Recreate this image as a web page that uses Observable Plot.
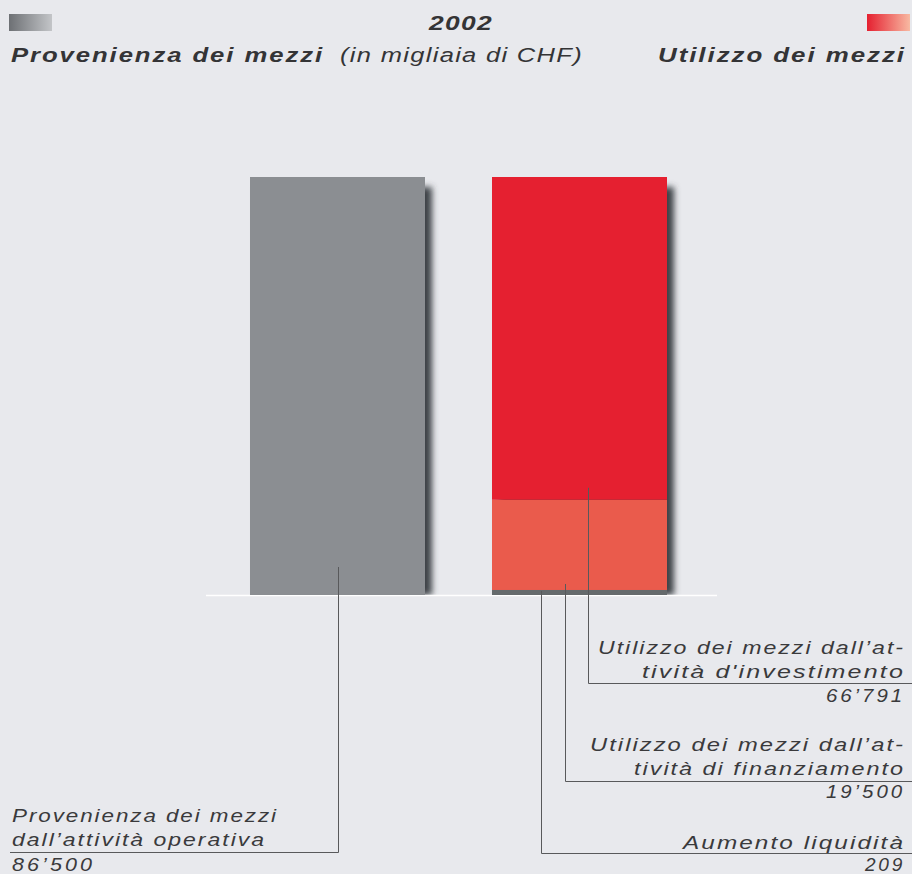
<!DOCTYPE html>
<html><head><meta charset="utf-8">
<script src="https://cdn.jsdelivr.net/npm/d3@7"></script>
<script src="https://cdn.jsdelivr.net/npm/@observablehq/plot@0.6"></script>
<style>
html,body{margin:0;padding:0;background:#e8e9ed;}
#chart svg{display:block;}
</style>
</head><body><div id="chart"></div>
<script>
// ---- data ----
const year = "2002";
const categories = ["Provenienza dei mezzi", "Utilizzo dei mezzi"];
const unitNote = "(in migliaia di CHF)";
const sourceLabels = ["Provenienza dei mezzi dall’attività operativa"];
const sourceValues = [86500];
const useLabels = ["Aumento liquidità", "Utilizzo dei mezzi dall’attività di finanziamento", "Utilizzo dei mezzi dall’attività d'investimento"];
const useValues = [209, 19500, 66791];
// label text as broken in the original
const sourceLabelLines = [["Provenienza dei mezzi", "dall’attività operativa"]];
const useLabelLines = [["Aumento liquidità"], ["Utilizzo dei mezzi dall’at-", "tività di finanziamento"], ["Utilizzo dei mezzi dall’at-", "tività d'investimento"]];

// ---- styles ----
const sourceFill = "#8b8e92";
const useFills = ["#656a6c", "#ea5b4c", "#e52030"];
const textColor = "#3a3a3c";
const fmt = d3.formatLocale({decimal: ".", thousands: "’", grouping: [3]}).format(",");

const src = sourceValues.map((v, i) => ({cat: categories[0], label: sourceLabels[i], value: v, fill: sourceFill}));
const segs = useValues.map((v, i) => ({cat: categories[1], label: useLabels[i], value: v, fill: useFills[i]}));
const all = [...src, ...segs];

const W = 912, H = 874;
const plot = Plot.plot({
  width: W, height: H,
  marginLeft: 206, marginRight: 195, marginTop: 177, marginBottom: 874 - 595,
  style: {background: "#e8e9ed", overflow: "visible", fontFamily: "Liberation Sans, Arial, sans-serif"},
  x: {type: "band", domain: categories, range: [250, 667], paddingInner: 0.277, paddingOuter: 0, axis: null},
  y: {domain: [0, d3.sum(useValues)], range: [595, 177], axis: null},
  marks: [
    Plot.barY(all, Plot.groupX({y: "sum"}, {x: "cat", y: "value", fill: "#3e4246", dx: 7, insetTop: 10, ariaDescription: "shadow"})),
    Plot.ruleY([0], {stroke: "#ffffff", strokeWidth: 1.5}),
    Plot.barY(all, {x: "cat", y: "value", fill: d => d.fill}),
    Plot.barY([segs[0]], {x: "cat", y1: 0, y2: "value", fill: d => d.fill, insetTop: -4})
  ]
});
document.getElementById("chart").appendChild(plot);

const svg = d3.select(plot);
const xs = plot.scale("x"), ys = plot.scale("y");
const defs = svg.insert("defs", ":first-child");
defs.append("filter").attr("id", "shblur").attr("filterUnits", "userSpaceOnUse")
  .attr("x", 0).attr("y", 0).attr("width", W).attr("height", H)
  .append("feGaussianBlur").attr("stdDeviation", 3.4);
defs.append("clipPath").attr("id", "aboveBase").append("rect")
  .attr("x", 0).attr("y", 0).attr("width", W).attr("height", ys.apply(0));
const g1 = defs.append("linearGradient").attr("id", "gGray");
g1.append("stop").attr("offset", "0%").attr("stop-color", "#6d7074");
g1.append("stop").attr("offset", "100%").attr("stop-color", "#c3c5c8");
const g2 = defs.append("linearGradient").attr("id", "gRed");
g2.append("stop").attr("offset", "0%").attr("stop-color", "#e52030");
g2.append("stop").attr("offset", "100%").attr("stop-color", "#f8b9a2");
let shadowG = svg.select('g[aria-description="shadow"]');
if (shadowG.empty()) shadowG = svg.select('g[aria-label="bar"]');
const wrapper = svg.insert("g", () => shadowG.node()).attr("clip-path", "url(#aboveBase)");
wrapper.node().appendChild(shadowG.node());
shadowG.attr("filter", "url(#shblur)");

// ---- header ----
const hdr = svg.append("g").attr("fill", "#343436");
hdr.append("rect").attr("x", 9).attr("y", 14).attr("width", 43).attr("height", 17).attr("fill", "url(#gGray)");
hdr.append("rect").attr("x", 867).attr("y", 14).attr("width", 43).attr("height", 17).attr("fill", "url(#gRed)");
function txt(g, x, y, s, w, anchor, size, weight, ls) {
  return g.append("text").attr("x", x).attr("y", y).attr("text-anchor", anchor)
    .attr("font-size", size).attr("font-style", "italic").attr("font-weight", weight || "normal")
    .attr("letter-spacing", ls)
    .attr("textLength", w).attr("lengthAdjust", "spacingAndGlyphs").text(s);
}
txt(hdr, 461, 30, year, 64, "middle", 20, "bold", 1);
txt(hdr, 11, 62, categories[0], 313, "start", 20, "bold", 1.5);
txt(hdr, 340, 62, unitNote, 243, "start", 19.5, "normal", 1);
txt(hdr, 906, 62, categories[1], 248, "end", 20, "bold", 1.5);

// ---- annotations (layout) ----
const stackBottom = (arr, i) => d3.sum(arr.slice(0, i), d => d.value);
const ann = [
  {d: src[0], bottom: 0, dxA: 88, lift: 28, side: "left", lineY: 852, lines: sourceLabelLines[0], base: [822, 846, 871], widths: [266, 254, 83]},
  {d: segs[0], bottom: stackBottom(segs, 0), dxA: 49, lift: 4, side: "right", lineY: 853, lines: useLabelLines[0], base: [849, 871], widths: [222, 40]},
  {d: segs[1], bottom: stackBottom(segs, 1), dxA: 73, lift: 10, side: "right", lineY: 781, lines: useLabelLines[1], base: [751, 775, 798], widths: [315, 271, 79]},
  {d: segs[2], bottom: stackBottom(segs, 2), dxA: 96, lift: 12, side: "right", lineY: 683, lines: useLabelLines[2], base: [654, 678, 702], widths: [307, 263, 79]}
];
const ag = svg.append("g").attr("fill", textColor);
for (const a of ann) {
  const x0 = xs.apply(a.d.cat) + a.dxA;
  const yTop = ys.apply(a.bottom) - a.lift;
  const xEnd = a.side === "left" ? 10 : W;
  ag.append("path").attr("d", `M${x0 + 0.5},${yTop}V${a.lineY + 0.5}H${xEnd}`)
    .attr("fill", "none").attr("stroke", "#58595b").attr("stroke-width", 1);
  const texts = [...a.lines, fmt(a.d.value)];
  texts.forEach((s, i) => {
    const ls = i === texts.length - 1 ? 2.5 : 1.5;
    if (a.side === "left") txt(ag, 12, a.base[i], s, a.widths[i], "start", 17.5, "normal", ls);
    else txt(ag, 905, a.base[i], s, a.widths[i], "end", 17.5, "normal", ls);
  });
}
</script></body></html>
